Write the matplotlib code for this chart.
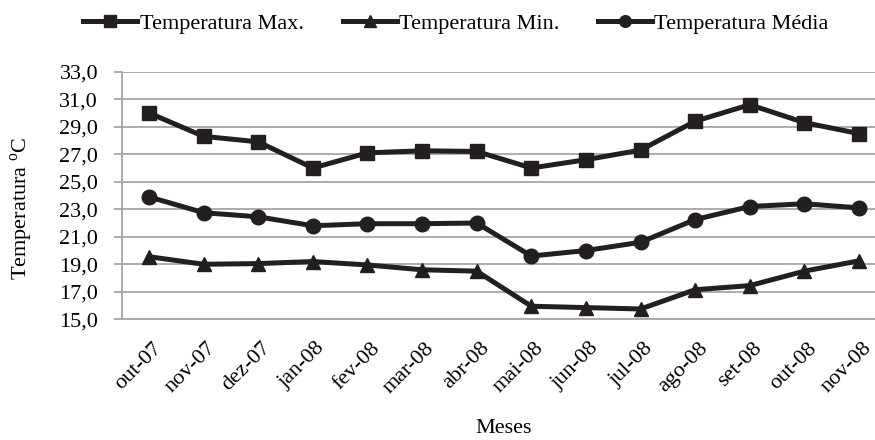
import matplotlib
matplotlib.use("Agg")
import matplotlib.pyplot as plt
from matplotlib.ticker import FuncFormatter, FixedLocator
from matplotlib.transforms import ScaledTranslation

plt.rcParams['font.family'] = ['Liberation Serif', 'DejaVu Serif']
plt.rcParams['mathtext.fontset'] = 'custom'
plt.rcParams['mathtext.rm'] = 'Liberation Serif'

meses = ["out-07", "nov-07", "dez-07", "jan-08", "fev-08", "mar-08", "abr-08",
         "mai-08", "jun-08", "jul-08", "ago-08", "set-08", "out-08", "nov-08"]
temp_max = [30.0, 28.3, 27.9, 26.0, 27.1, 27.25, 27.2, 26.0, 26.6, 27.3, 29.4, 30.6, 29.3, 28.5]
temp_min = [19.55, 19.0, 19.05, 19.2, 18.95, 18.6, 18.5, 15.95, 15.85, 15.75, 17.15, 17.45, 18.5, 19.25]
temp_med = [23.9, 22.75, 22.45, 21.8, 21.95, 21.95, 22.0, 19.6, 20.0, 20.6, 22.25, 23.2, 23.4, 23.1]
y_ticks = [15, 17, 19, 21, 23, 25, 27, 29, 31, 33]

series_labels = ["Temperatura Max.", "Temperatura Min.", "Temperatura Média"]

fs = 16
col = '#231f20'
grid_col = '#a6a6a6'

fig = plt.figure(figsize=(8.75, 4.4), dpi=100)
ax = fig.add_axes([121.7/875, 1 - 319.3/440, 764.6/875, 247.6/440])

x = list(range(len(meses)))
ax.plot(x, temp_max, color=col, lw=3.6, marker='s', ms=10, label=series_labels[0])
ax.plot(x, temp_min, color=col, lw=3.6, marker='^', ms=10, label=series_labels[1])
ax.plot(x, temp_med, color=col, lw=3.6, marker='o', ms=10.5, label=series_labels[2])

ax.set_xlim(-0.5, len(meses) - 0.5)
ax.set_ylim(y_ticks[0], y_ticks[-1])
ax.yaxis.set_major_locator(FixedLocator(y_ticks))
ax.yaxis.set_major_formatter(FuncFormatter(lambda v, p: f"{v:.1f}".replace('.', ',')))
ax.set_xticks(x)
ax.set_xticklabels(meses, rotation=45, ha='right', va='top', rotation_mode='anchor', fontsize=fs)
ax.tick_params(axis='y', labelsize=fs, length=6, width=1.3, color=grid_col, pad=11)
ax.tick_params(axis='x', length=0, pad=14)
offset = ScaledTranslation(3/100, 0, fig.dpi_scale_trans)
for lab in ax.get_xticklabels():
    lab.set_transform(lab.get_transform() + offset)

ax.grid(axis='y', color=grid_col, lw=1.3)
ax.set_axisbelow(True)
for s in ['top', 'right']:
    ax.spines[s].set_visible(False)
for s in ['left', 'bottom']:
    ax.spines[s].set_color(grid_col)
    ax.spines[s].set_linewidth(1.3)

fig.text(22/875, 1 - 208/440, r"Temperatura $^{\mathrm{o}}$C", fontsize=fs,
         rotation=90, ha='center', va='center')
fig.text(504/875, 1 - 433/440, "Meses", fontsize=fs, ha='center', va='baseline')

leg = fig.legend(loc='center', bbox_to_anchor=(456/875, 1 - 24/440), ncol=3, frameon=False,
                 fontsize=fs, handlelength=2.43, handletextpad=0.1, columnspacing=1.75,
                 numpoints=1, borderaxespad=0, borderpad=0, markerscale=0.8)

fig.savefig("out.png", dpi=100)
